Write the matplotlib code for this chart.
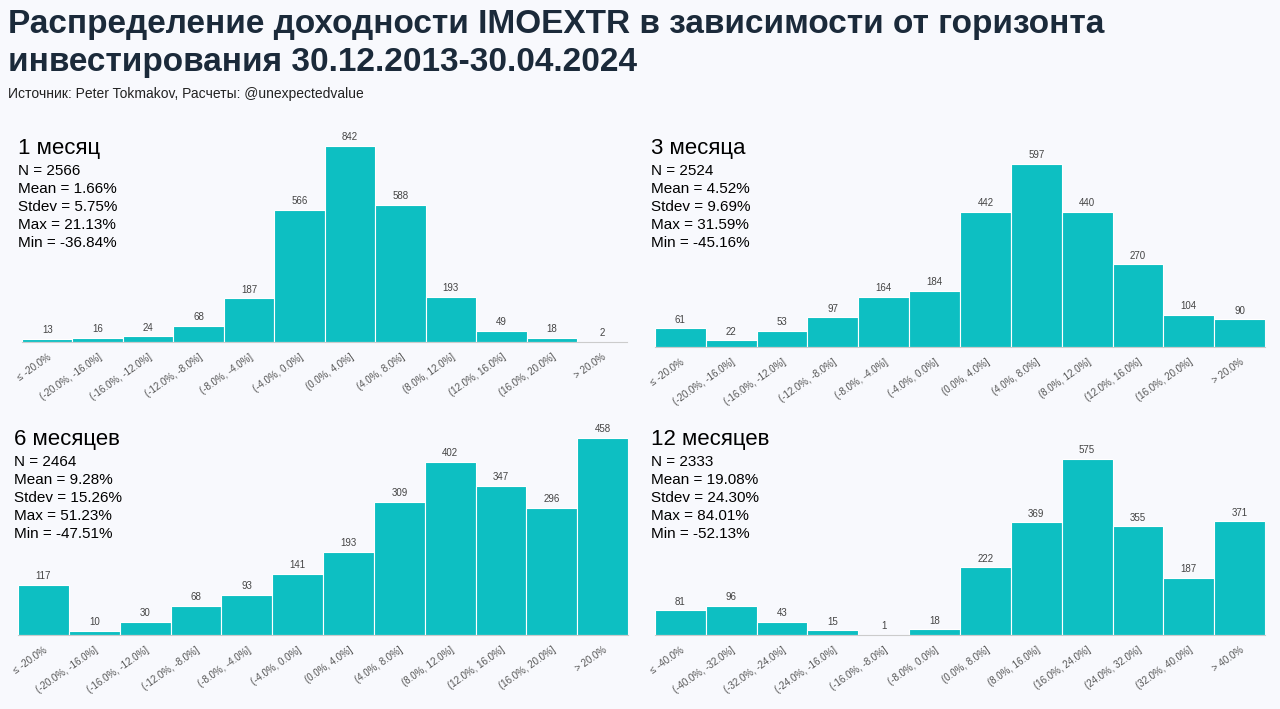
import matplotlib.pyplot as plt

bins_20 = ["≤ -20.0%", "(-20.0%, -16.0%]", "(-16.0%, -12.0%]", "(-12.0%, -8.0%]",
           "(-8.0%, -4.0%]", "(-4.0%, 0.0%]", "(0.0%, 4.0%]", "(4.0%, 8.0%]",
           "(8.0%, 12.0%]", "(12.0%, 16.0%]", "(16.0%, 20.0%]", "> 20.0%"]
bins_40 = ["≤ -40.0%", "(-40.0%, -32.0%]", "(-32.0%, -24.0%]", "(-24.0%, -16.0%]",
           "(-16.0%, -8.0%]", "(-8.0%, 0.0%]", "(0.0%, 8.0%]", "(8.0%, 16.0%]",
           "(16.0%, 24.0%]", "(24.0%, 32.0%]", "(32.0%, 40.0%]", "> 40.0%"]

counts_1m = [13, 16, 24, 68, 187, 566, 842, 588, 193, 49, 18, 2]
counts_3m = [61, 22, 53, 97, 164, 184, 442, 597, 440, 270, 104, 90]
counts_6m = [117, 10, 30, 68, 93, 141, 193, 309, 402, 347, 296, 458]
counts_12m = [81, 96, 43, 15, 1, 18, 222, 369, 575, 355, 187, 371]

titles = ["1 месяц", "3 месяца", "6 месяцев", "12 месяцев"]
stats = [
    ["N = 2566", "Mean = 1.66%", "Stdev = 5.75%", "Max = 21.13%", "Min = -36.84%"],
    ["N = 2524", "Mean = 4.52%", "Stdev = 9.69%", "Max = 31.59%", "Min = -45.16%"],
    ["N = 2464", "Mean = 9.28%", "Stdev = 15.26%", "Max = 51.23%", "Min = -47.51%"],
    ["N = 2333", "Mean = 19.08%", "Stdev = 24.30%", "Max = 84.01%", "Min = -52.13%"],
]

bg = "#f8f9fd"
bar_color = "#0dbfc2"
plt.rcParams['font.family'] = ['Liberation Sans', 'DejaVu Sans']

fig = plt.figure(figsize=(12.8, 7.09), dpi=100, facecolor=bg)
fig.text(0.006, 0.988, "Распределение доходности IMOEXTR в зависимости от горизонта\nинвестирования 30.12.2013-30.04.2024",
         fontsize=24, fontweight="bold", color="#1b2a3a", va="top", linespacing=1.3)
fig.text(0.006, 0.877, "Источник: Peter Tokmakov, Расчеты: @unexpectedvalue", fontsize=10, color="#222222", va="top")

panels = [
    ([0.0172, 0.5176, 0.473, 0.2764], counts_1m, bins_20, 0.805),
    ([0.5117, 0.5106, 0.4766, 0.2581], counts_3m, bins_20, 0.805),
    ([0.0141, 0.1044, 0.4766, 0.2779], counts_6m, bins_20, 0.395),
    ([0.5117, 0.1044, 0.4766, 0.2482], counts_12m, bins_40, 0.395),
]

for i, (pos, counts, labels, ytop) in enumerate(panels):
    ax = fig.add_axes(pos)
    ax.set_facecolor(bg)
    x = range(len(counts))
    ax.bar(x, counts, width=1.0, color=bar_color, edgecolor="white", linewidth=0.8)
    for xi, c in zip(x, counts):
        ax.text(xi, c + max(counts) * 0.02, str(c), ha="center", va="bottom",
                fontsize=7, color="#444444", clip_on=False)
    ax.set_xlim(-0.5, len(counts) - 0.5)
    ax.set_ylim(0, max(counts))
    ax.set_xticks(list(x))
    ax.set_xticklabels(labels, rotation=35, ha="right", rotation_mode="anchor",
                       fontsize=7, color="#555555")
    ax.tick_params(axis="x", length=0, pad=7)
    ax.set_yticks([])
    for s in ["top", "right", "left"]:
        ax.spines[s].set_visible(False)
    ax.spines["bottom"].set_color("#cccccc")
    fig.text(pos[0] - 0.003, ytop, titles[i], fontsize=16, color="black", va="top")
    fig.text(pos[0] - 0.003, ytop - 0.037, "\n".join(stats[i]), fontsize=11,
             color="black", va="top", linespacing=1.35)

fig.savefig("out.png", dpi=100, facecolor=bg)
